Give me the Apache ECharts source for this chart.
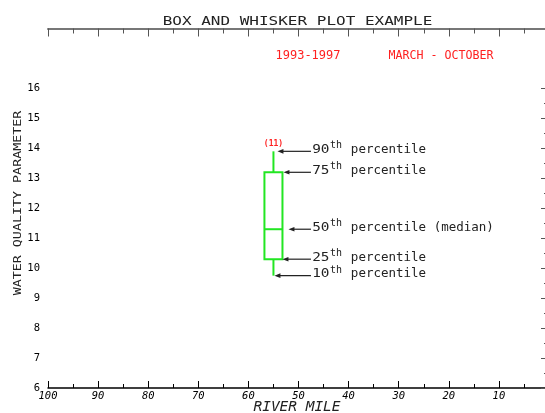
<!DOCTYPE html>
<html>
<head>
<meta charset="utf-8">
<script src="https://cdn.jsdelivr.net/npm/echarts@6/dist/echarts.min.js"></script>
<style>html,body{margin:0;padding:0;background:#fff;}#c{width:545px;height:413px;}</style>
</head>
<body>
<div id="c"></div>
<script>
// ---- data ----
const riverMile = [55];
const p10 = [9.75];
const p25 = [10.3];
const p50 = [11.3];
const p75 = [13.2];
const p90 = [13.9];
const nObs = [11];
const xTickLabels = [100, 90, 80, 70, 60, 50, 40, 30, 20, 10];
const yTickLabels = [6, 7, 8, 9, 10, 11, 12, 13, 14, 15, 16];
const yMinorTicks = [6.5, 7.5, 8.5, 9.5, 10.5, 11.5, 12.5, 13.5, 14.5, 15.5];
const annoOrdinal = ['90', '75', '50', '25', '10'];
const annoText = ['percentile', 'percentile', 'percentile (median)', 'percentile', 'percentile'];
const titleText = 'BOX AND WHISKER PLOT EXAMPLE';
const periodText = '1993-1997';
const seasonText = 'MARCH - OCTOBER';
const xName = 'RIVER MILE';
const yName = 'WATER QUALITY PARAMETER';

const FF = 'DejaVu Sans Mono';
const GREEN = '#22e622';
const RED = '#ff2020';

const boxData = riverMile.map((m, i) => [m, p10[i], p25[i], p50[i], p75[i], p90[i], nObs[i]]);
const annoValues = [p90[0], p75[0], p50[0], p25[0], p10[0]];
const annoData = annoValues.map((v, i) => [riverMile[0], v, i]);
const headGap = [4, 10, 15, 9, 1];

const chart = echarts.init(document.getElementById('c'), null, {renderer: 'canvas'});

function boxRender(params, api) {
  const x = api.value(0);
  const c10 = api.coord([x, api.value(1)]);
  const c25 = api.coord([x, api.value(2)]);
  const c50 = api.coord([x, api.value(3)]);
  const c75 = api.coord([x, api.value(4)]);
  const c90 = api.coord([x, api.value(5)]);
  const hw = api.size([3.6, 0])[0] / 2;
  const ls = {stroke: GREEN, lineWidth: 2, fill: null};
  return {
    type: 'group',
    children: [
      {type: 'line', shape: {x1: c90[0], y1: c90[1], x2: c75[0], y2: c75[1]}, style: ls},
      {type: 'line', shape: {x1: c25[0], y1: c25[1], x2: c10[0], y2: c10[1]}, style: ls},
      {type: 'rect', shape: {x: c75[0] - hw, y: c75[1], width: hw * 2, height: c25[1] - c75[1]}, style: ls},
      {type: 'line', shape: {x1: c50[0] - hw, y1: c50[1], x2: c50[0] + hw, y2: c50[1]}, style: ls},
      {type: 'text', x: c90[0], y: c90[1] - 7, style: {text: '(' + api.value(6) + ')', fill: RED, font: 'bold 8px ' + FF, align: 'center', verticalAlign: 'middle'}}
    ]
  };
}

function annoRender(params, api) {
  const idx = api.value(2);
  const c = api.coord([api.value(0), api.value(1)]);
  const y = c[1];
  const hx = c[0] + headGap[idx];
  const tx = c[0] + 37.5;
  const col = '#222';
  return {
    type: 'group',
    children: [
      {type: 'line', shape: {x1: hx + 4, y1: y, x2: tx, y2: y}, style: {stroke: col, lineWidth: 1.2}},
      {type: 'polygon', shape: {points: [[hx, y], [hx + 6, y - 2.3], [hx + 6, y + 2.3]]}, style: {fill: col}},
      {type: 'text', x: c[0] + 38.7, y: y + 2.3 - 3.6, scaleX: 1.2, style: {text: annoOrdinal[idx], fill: col, font: '12px ' + FF, align: 'left', verticalAlign: 'middle'}},
      {type: 'text', x: c[0] + 56.5, y: y - 2.7 - 3, style: {text: 'th', fill: col, font: '10px ' + FF, align: 'left', verticalAlign: 'middle'}},
      {type: 'text', x: c[0] + 77.4, y: y + 2.3 - 3.75, style: {text: annoText[idx], fill: col, font: '12.5px ' + FF, align: 'left', verticalAlign: 'middle'}}
    ]
  };
}

const option = {
  backgroundColor: '#fff',
  animation: false,
  grid: {left: 48, width: 501, top: 28.5, height: 359.5, containLabel: false, outerBoundsMode: 'none'},
  xAxis: [
    {
      type: 'value', min: 0, max: 100, interval: 10, inverse: true, position: 'bottom',
      axisLine: {show: true, lineStyle: {color: '#000', width: 1.5}},
      axisTick: {show: true, inside: true, length: 7, lineStyle: {color: '#000', width: 1}},
      minorTick: {show: true, splitNumber: 2, length: 4, lineStyle: {color: '#000', width: 1}},
      splitLine: {show: false}, minorSplitLine: {show: false},
      axisLabel: {show: true, customValues: xTickLabels, margin: 3, fontSize: 10.5, fontStyle: 'italic', fontFamily: FF, color: '#000'}
    },
    {
      type: 'value', min: 0, max: 100, interval: 10, inverse: true, position: 'top',
      axisLine: {show: true, lineStyle: {color: '#777', width: 2}},
      axisTick: {show: true, inside: true, length: 8, lineStyle: {color: '#555', width: 1}},
      minorTick: {show: true, splitNumber: 2, length: 5, lineStyle: {color: '#555', width: 1}},
      splitLine: {show: false}, axisLabel: {show: false}
    }
  ],
  yAxis: [
    {
      type: 'value', min: 6, max: 18, interval: 1, position: 'left',
      axisLine: {show: true, lineStyle: {color: '#000', width: 1.5}},
      axisTick: {show: true, inside: true, length: 8, customValues: yTickLabels, lineStyle: {color: '#000', width: 1}},
      splitLine: {show: false},
      axisLabel: {show: true, customValues: yTickLabels, margin: 8, fontSize: 10.5, fontFamily: FF, color: '#000'}
    },
    {
      type: 'value', min: 6, max: 18, interval: 1, position: 'left',
      axisLine: {show: false},
      axisTick: {show: true, inside: true, length: 6, customValues: yMinorTicks, lineStyle: {color: '#000', width: 1}},
      splitLine: {show: false}, axisLabel: {show: false}
    },
    {
      type: 'value', min: 6, max: 18, interval: 1, position: 'right',
      axisLine: {show: true, lineStyle: {color: '#777', width: 2}},
      axisTick: {show: true, inside: true, length: 8, customValues: yTickLabels, lineStyle: {color: '#555', width: 1}},
      splitLine: {show: false}, axisLabel: {show: false}
    },
    {
      type: 'value', min: 6, max: 18, interval: 1, position: 'right',
      axisLine: {show: false},
      axisTick: {show: true, inside: true, length: 5, customValues: yMinorTicks, lineStyle: {color: '#555', width: 1}},
      splitLine: {show: false}, axisLabel: {show: false}
    }
  ],
  graphic: [
    {type: 'text', x: 297.5, y: 21.5, scaleX: 1.23, style: {text: titleText, fill: '#222', font: '13px ' + FF, align: 'center', verticalAlign: 'middle'}},
    {type: 'text', x: 308, y: 56, style: {text: periodText, fill: RED, font: '12px ' + FF, align: 'center', verticalAlign: 'middle'}},
    {type: 'text', x: 441, y: 56, scaleX: 0.97, style: {text: seasonText, fill: RED, font: '12px ' + FF, align: 'center', verticalAlign: 'middle'}},
    {type: 'text', x: 297, y: 407, scaleX: 1.07, style: {text: xName, fill: '#222', font: 'italic 13.5px ' + FF, align: 'center', verticalAlign: 'middle'}},
    {type: 'text', x: 18.5, y: 203, rotation: Math.PI / 2, scaleX: 1.27, style: {text: yName, fill: '#222', font: '10.5px ' + FF, align: 'center', verticalAlign: 'middle'}}
  ],
  series: [
    {type: 'custom', name: 'box', xAxisIndex: 0, yAxisIndex: 0, clip: false, encode: {x: 0, y: [1, 2, 3, 4, 5]}, renderItem: boxRender, data: boxData},
    {type: 'custom', name: 'annotation', xAxisIndex: 0, yAxisIndex: 0, clip: false, encode: {x: 0, y: 1}, renderItem: annoRender, data: annoData}
  ]
};
chart.setOption(option);
</script>
</body>
</html>
